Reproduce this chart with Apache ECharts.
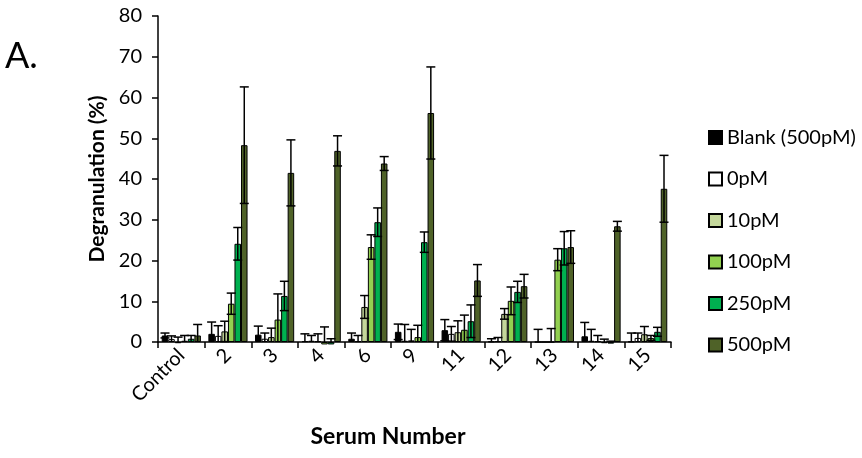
<!DOCTYPE html>
<html>
<head>
<meta charset="utf-8">
<script src="https://cdn.jsdelivr.net/npm/echarts@6/dist/echarts.min.js"></script>
<style>
  html, body { margin: 0; padding: 0; background: #ffffff; }
  #chart { width: 862px; height: 458px; }
</style>
</head>
<body>
<div id="chart"></div>
<script>
// Serum samples on the x axis
const categories = ['Control', '2', '3', '4', '6', '9', '11', '12', '13', '14', '15'];

// Mean degranulation (%) per treatment, with error (±) values
const blankVals      = [1.6, 2.0, 1.8, 0.2, 0.8, 2.5, 2.9, 0.1, 0.0, 1.4, 0.1];
const blankErr       = [0.6, 2.9, 2.1, 1.8, 1.4, 1.9, 2.6, 0.7, 3.1, 3.4, 2.1];
const zeroVals       = [0.7, 1.5, 0.8, 0.3, 0.2, 0.3, 2.0, 0.2, 0.0, 0.3, 1.0];
const zeroErr        = [0.8, 2.5, 1.4, 1.3, 1.4, 4.0, 1.8, 0.9, 0.0, 2.8, 1.2];
const tenVals        = [-0.3, 2.6, 1.2, 0.2, 8.6, 0.4, 2.4, 6.9, 0.0, 0.2, 1.9];
const tenErr         = [1.5, 2.5, 2.2, 1.8, 2.8, 2.7, 2.8, 1.3, 3.3, 1.4, 1.9];
const hundredVals    = [0.3, 9.4, 5.5, -0.6, 23.3, 1.2, 3.0, 10.1, 20.2, -0.3, 1.0];
const hundredErr     = [1.3, 2.6, 6.3, 4.3, 3.0, 2.9, 3.6, 3.4, 2.7, 1.0, 0.6];
const twoFiftyVals   = [0.8, 24.1, 11.3, -0.6, 29.4, 24.5, 5.1, 12.3, 23.0, -0.4, 2.5];
const twoFiftyErr    = [0.8, 4.0, 3.6, 1.4, 3.5, 2.5, 4.0, 2.6, 4.1, 0.6, 1.1];
const fiveHundredVals = [1.6, 48.3, 41.5, 46.9, 43.8, 56.2, 15.1, 13.7, 23.3, 28.4, 37.6];
const fiveHundredErr  = [2.7, 14.3, 8.1, 3.7, 1.7, 11.3, 3.9, 2.9, 4.0, 1.2, 8.2];

const seriesNames = ['Blank (500pM)', '0pM', '10pM', '100pM', '250pM', '500pM'];
const seriesColors = ['#000000', '#ffffff', '#c4d79b', '#92d050', '#00b050', '#4f6228'];
const allVals = [blankVals, zeroVals, tenVals, hundredVals, twoFiftyVals, fiveHundredVals];
const allErrs = [blankErr, zeroErr, tenErr, hundredErr, twoFiftyErr, fiveHundredErr];

const yTickStep = 10;
const yMax = 80;

const CAT_GAP = 0.16;
const FONT = 'Lato, "Open Sans", sans-serif';

// Draws a vertical error bar (with caps) centred on the k-th bar of each group
function errorRenderer(k) {
  return function (params, api) {
    const ci = api.value(0);
    const v = api.value(1);
    const e = api.value(2);
    if (!(e > 0)) return null;
    const band = api.size([1, 0])[0];
    const groupW = band * (1 - CAT_GAP);
    const bw = groupW / seriesNames.length;
    const base = api.coord([ci, 0]);
    const cx = base[0] - groupW / 2 + (k + 0.5) * bw;
    const yTop = api.coord([ci, v + e])[1];
    const low = v - e;
    const yLow = api.coord([ci, Math.max(low, 0)])[1];
    const capHalf = 4.5;
    const st = { stroke: '#000000', lineWidth: 1.5 };
    const kids = [
      { type: 'line', shape: { x1: cx, y1: yTop, x2: cx, y2: yLow }, style: st },
      { type: 'line', shape: { x1: cx - capHalf, y1: yTop, x2: cx + capHalf, y2: yTop }, style: st }
    ];
    if (low > 0) {
      kids.push({ type: 'line', shape: { x1: cx - capHalf, y1: yLow, x2: cx + capHalf, y2: yLow }, style: st });
    }
    return { type: 'group', children: kids };
  };
}

const series = [];
seriesNames.forEach(function (name, k) {
  series.push({
    name: name,
    type: 'bar',
    data: allVals[k],
    barGap: '0%',
    barCategoryGap: (CAT_GAP * 100) + '%',
    clip: false,
    itemStyle: { color: seriesColors[k], borderColor: '#000000', borderWidth: 1 },
    emphasis: { disabled: true },
    z: 2
  });
});
seriesNames.forEach(function (name, k) {
  series.push({
    type: 'custom',
    name: name + ' error',
    renderItem: errorRenderer(k),
    data: allVals[k].map(function (v, i) { return [i, v, allErrs[k][i]]; }),
    encode: { x: 0, y: 1 },
    clip: false,
    silent: true,
    z: 5
  });
});

const chart = echarts.init(document.getElementById('chart'), null, { renderer: 'canvas' });
chart.setOption({
  animation: false,
  backgroundColor: '#ffffff',
  textStyle: { fontFamily: FONT },
  grid: { left: 158, right: 191, top: 16, bottom: 116, containLabel: false },
  legend: {
    data: seriesNames,
    orient: 'vertical',
    left: 703,
    top: 122,
    itemWidth: 13,
    itemHeight: 13,
    itemGap: 20.5,
    icon: 'rect',
    textStyle: { fontFamily: FONT, fontSize: 20, color: '#000000', lineHeight: 21 },
    selectedMode: false
  },
  xAxis: {
    type: 'category',
    data: categories,
    axisLine: { lineStyle: { color: '#000000', width: 1.5 } },
    axisTick: { show: true, alignWithLabel: false, length: 6, lineStyle: { color: '#000000', width: 1.5 } },
    axisLabel: { rotate: 45, margin: 10, fontFamily: FONT, fontSize: 20, color: '#000000', interval: 0 },
    splitLine: { show: false }
  },
  yAxis: {
    type: 'value',
    min: 0,
    max: yMax,
    interval: yTickStep,
    name: 'Degranulation (%)',
    nameLocation: 'middle',
    nameGap: 48,
    nameTextStyle: { fontFamily: FONT, fontSize: 21, fontWeight: 'bold', color: '#000000' },
    axisLine: { show: true, lineStyle: { color: '#000000', width: 1.5 } },
    axisTick: { show: true, length: 6, lineStyle: { color: '#000000', width: 1.5 } },
    axisLabel: { margin: 16, fontFamily: FONT, fontSize: 20, color: '#000000' },
    splitLine: { show: false }
  },
  graphic: [
    { type: 'text', left: 5, top: 38, style: { text: 'A.', font: '36px ' + FONT, fill: '#000000' } },
    { type: 'text', x: 388, y: 437, style: { text: 'Serum Number', font: 'bold 23px ' + FONT, fill: '#000000', align: 'center', verticalAlign: 'middle' } }
  ],
  series: series
});
</script>
</body>
</html>
